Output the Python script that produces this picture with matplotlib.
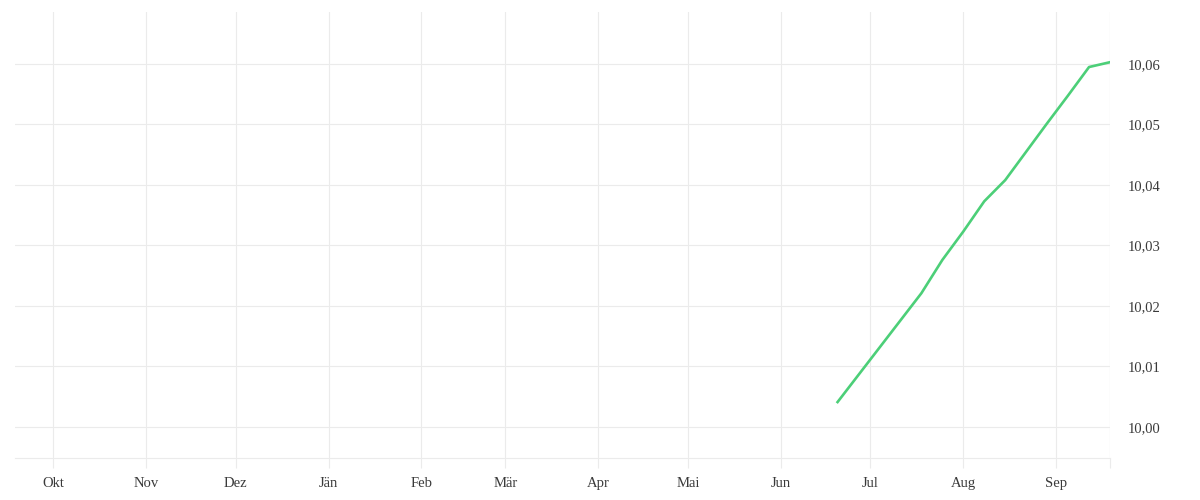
import numpy as np
import pandas as pd
import matplotlib
matplotlib.use('Agg')
import matplotlib.pyplot as plt
import matplotlib.dates as mdates
from matplotlib.ticker import FuncFormatter, FixedLocator

# data
dates = pd.to_datetime([
    '2023-06-20', '2023-06-27', '2023-07-04', '2023-07-11', '2023-07-18',
    '2023-07-25', '2023-08-01', '2023-08-08', '2023-08-15', '2023-08-22',
    '2023-08-29', '2023-09-05', '2023-09-12', '2023-09-19',
])
values = [10.0041, 10.0086, 10.0131, 10.0176, 10.0221,
          10.0276, 10.0323, 10.0373, 10.0408, 10.0455,
          10.0502, 10.0548, 10.0595, 10.0603]

month_starts = pd.date_range('2022-10-01', '2023-09-01', freq='MS')
month_labels = ['Okt', 'Nov', 'Dez', 'Jän', 'Feb', 'Mär',
                'Apr', 'Mai', 'Jun', 'Jul', 'Aug', 'Sep']
y_ticks = [10.00, 10.01, 10.02, 10.03, 10.04, 10.05, 10.06]

x_start = pd.Timestamp('2022-09-18 06:00')
x_end = pd.Timestamp('2023-09-19')

grid_col = '#ebebeb'
text_col = '#3a3a3a'
plt.rcParams['font.family'] = ['Liberation Serif', 'DejaVu Serif']

fig = plt.figure(figsize=(12, 5), dpi=100)
ax = fig.add_axes([0.0125, 0.084, 0.9125, 0.892])

ax.plot(dates, values, color='#4ccf78', linewidth=1.9, solid_joinstyle='round', zorder=3)

ax.set_xlim(x_start, x_end)
ax.set_ylim(9.99485, 10.0686)

# x ticks: month starts plus the right edge
xt = list(mdates.date2num(month_starts)) + [mdates.date2num(x_end)]
ax.xaxis.set_major_locator(FixedLocator(xt))
ax.set_xticklabels(month_labels + [''])
ax.tick_params(axis='x', length=7.5, width=0.8, color=grid_col,
               labelsize=10.5, labelcolor=text_col, pad=6.5)

ax.yaxis.tick_right()
ax.set_yticks(y_ticks)
ax.yaxis.set_major_formatter(FuncFormatter(lambda v, p: f'{v:.2f}'.replace('.', ',')))
ax.tick_params(axis='y', length=0, labelsize=10.5, labelcolor=text_col, pad=12.5)

ax.grid(True, color=grid_col, linewidth=0.8)
for s in ['top', 'left', 'right']:
    ax.spines[s].set_visible(False)
ax.spines['bottom'].set_color(grid_col)
ax.spines['bottom'].set_linewidth(0.8)
# vertical line at the right edge
ax.axvline(x_end, color=grid_col, linewidth=0.8, zorder=1)

fig.savefig('out.png', dpi=100)
